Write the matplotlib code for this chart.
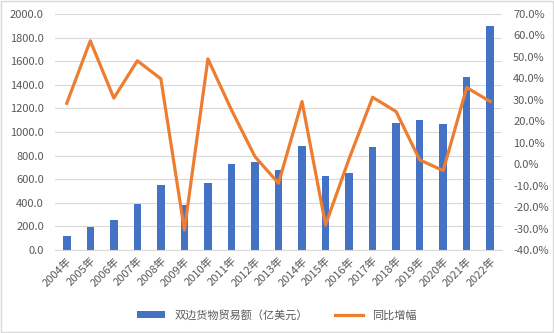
import numpy as np
import matplotlib.pyplot as plt
from matplotlib.patches import Rectangle
from matplotlib.ticker import FuncFormatter

plt.rcParams['font.family'] = ['Noto Sans CJK SC', 'DejaVu Sans']

years = [str(y) + "年" for y in range(2004, 2023)]
trade = [120, 195, 258, 393, 548, 378, 565, 725, 750, 680,
         885, 630, 655, 870, 1080, 1105, 1070, 1470, 1900]
growth = [28.4, 57.5, 30.8, 48.2, 39.8, -30.7, 49.1, 25.3, 3.5, -8.9,
          29.2, -28.3, 2.5, 31.2, 24.5, 2.0, -3.0, 35.7, 29.2]

blue = "#4472C4"
orange = "#ED7D31"
grey = "#595959"

fig = plt.figure(figsize=(5.54, 3.33), dpi=100)
ax = fig.add_axes([55 / 554, 1 - 250 / 333, 447 / 554, 236 / 333])
ax2 = ax.twinx()

x = np.arange(len(years))
bars = ax.bar(x, trade, width=0.32, color=blue, label="双边货物贸易额（亿美元）", zorder=2)
line, = ax2.plot(x, growth, color=orange, linewidth=2.3, label="同比增幅", zorder=3)

ax.set_xlim(-0.5, len(years) - 0.5)
ax.set_ylim(0, 2000)
ax.set_yticks(np.arange(0, 2001, 200))
ax.yaxis.set_major_formatter(FuncFormatter(lambda v, p: f"{v:.1f}"))
ax2.set_ylim(-40, 70)
ax2.set_yticks(np.arange(-40, 71, 10))
ax2.yaxis.set_major_formatter(FuncFormatter(lambda v, p: f"{v:.1f}%"))

ax.grid(axis="y", color="#D9D9D9", linewidth=0.8, zorder=0)
ax.set_axisbelow(True)
ax.set_xticks(x)
ax.set_xticklabels(years, rotation=45, ha="right", rotation_mode="anchor")

for a in (ax, ax2):
    for s in a.spines.values():
        s.set_visible(False)
    a.tick_params(length=0, colors=grey, labelsize=8)
ax.spines["bottom"].set_visible(True)
ax.spines["bottom"].set_color("#D9D9D9")
ax.tick_params(axis="y", pad=8)
ax2.tick_params(axis="y", pad=8)
ax.tick_params(axis="x", pad=4)

fig.legend([bars, line], ["双边货物贸易额（亿美元）", "同比增幅"], loc="center",
           bbox_to_anchor=(0.5, 1 - 315 / 333), ncol=2, frameon=False,
           fontsize=8, labelcolor=grey, handlelength=2.5, columnspacing=2.5,
           handleheight=0.5)

fig.patches.append(Rectangle((0.002, 0.003), 0.996, 0.994, transform=fig.transFigure,
                             fill=False, edgecolor="#D9D9D9", linewidth=1))

fig.savefig("out.png", dpi=100)
